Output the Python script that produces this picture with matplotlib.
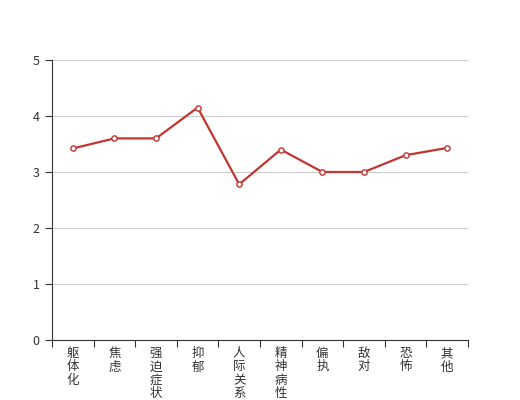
import matplotlib.pyplot as plt
import numpy as np

plt.rcParams["font.family"] = ["Noto Sans CJK SC", "DejaVu Sans"]

categories = ["躯体化", "焦虑", "强迫症状", "抑郁", "人际关系敏感",
              "精神病性", "偏执", "敌对", "恐怖", "其他"]
values = [3.42, 3.60, 3.60, 4.15, 2.78, 3.40, 3.00, 3.00, 3.30, 3.43]

fig = plt.figure(figsize=(5.2, 4), dpi=100)
ax = fig.add_axes([0.1, 0.15, 0.8, 0.7])

x = np.arange(len(categories))
ax.plot(x, values, color="#c23531", linewidth=1.6, marker="o", markersize=3.8,
        markerfacecolor="white", markeredgecolor="#c23531", markeredgewidth=1,
        zorder=3)

ax.set_xlim(-0.5, len(categories) - 0.5)
ax.set_ylim(0, 5)
ax.set_yticks(range(6))
ax.grid(axis="y", color="#cccccc", linewidth=0.8)
ax.set_axisbelow(True)

# ticks at category boundaries, labels in the middle
ax.set_xticks(np.arange(len(categories) + 1) - 0.5)
ax.set_xticklabels([])
ax.set_xticks(x, minor=True)
ax.set_xticklabels(["\n".join(c) for c in categories], minor=True,
                   fontsize=9, color="#333333", va="top", linespacing=1.05)
ax.tick_params(axis="x", which="minor", length=0, pad=5)
ax.tick_params(axis="x", which="major", length=5, color="#333333")
ax.tick_params(axis="y", length=5, color="#333333", labelsize=9,
               labelcolor="#333333", pad=4)

for side in ["top", "right"]:
    ax.spines[side].set_visible(False)
for side in ["left", "bottom"]:
    ax.spines[side].set_color("#333333")

fig.savefig("out.png", dpi=100)
